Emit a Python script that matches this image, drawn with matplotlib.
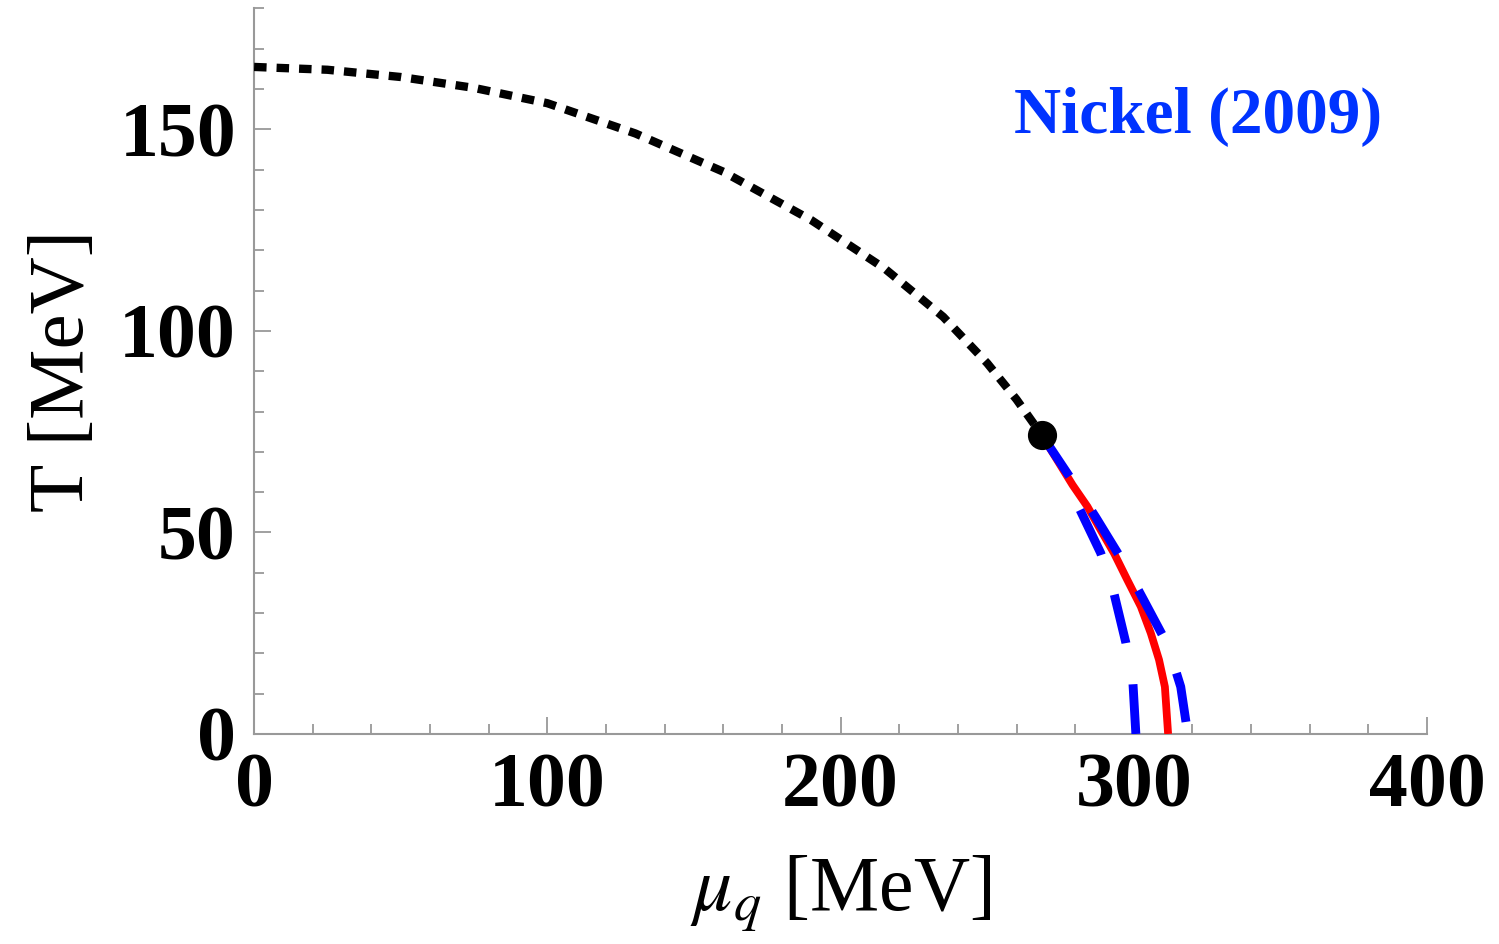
import matplotlib
matplotlib.use("Agg")
import matplotlib.pyplot as plt
from matplotlib.ticker import MultipleLocator

plt.rcParams['font.family'] = ['Liberation Serif', 'DejaVu Serif']
plt.rcParams['mathtext.fontset'] = 'stix'

# crossover line (dotted), mu_q vs T in MeV
cross_mu = [0, 25, 50, 75, 100, 130, 160, 190, 215, 235, 250, 260, 268.6]
cross_T = [165.5, 164.8, 163.0, 160.3, 156.5, 149.0, 139.5, 127.5, 115.5, 103.5, 92.0, 83.0, 74.2]

# critical point
cp_mu, cp_T = 268.6, 74.2

# first-order line (red)
red_mu = [268.6, 279.1, 284.2, 288.7, 293.3, 297.8, 302.4, 305.8, 308.6, 310.6, 311.7]
red_T = [74.2, 61.8, 56.4, 50.6, 44.8, 38.2, 31.6, 25.0, 18.4, 11.7, 0.0]

# inhomogeneous phase boundaries (blue dashed)
outer_mu = [268.6, 279.5, 287.0, 296.6, 303.4, 311.6, 316.0, 318.4]
outer_T = [74.2, 62.3, 53.8, 42.4, 33.2, 22.0, 11.7, 0.0]
inner_mu = [300.7, 299.7, 297.3, 293.2, 288.7, 281.2, 279.5]
inner_T = [0.0, 12.7, 22.6, 35.0, 44.9, 56.3, 62.3]

fig = plt.figure(figsize=(14.99, 9.44), dpi=100)
ax = fig.add_axes([0.1695, 0.2225, 0.7825, 0.7685])

ax.plot(cross_mu, cross_T, color='black', lw=6.0, dashes=(1.5, 1.2),
        dash_capstyle='butt', zorder=3)
ax.plot(red_mu, red_T, color='#ff0000', lw=5.6, solid_capstyle='butt',
        solid_joinstyle='round', zorder=3)
ax.plot(outer_mu, outer_T, color='#0000ff', lw=6.4, dashes=(5.6, 4.7),
        dash_capstyle='butt', zorder=4)
ax.plot(inner_mu, inner_T, color='#0000ff', lw=6.4, dashes=(5.6, 4.7),
        dash_capstyle='butt', zorder=4)
ax.plot([cp_mu], [cp_T], 'o', color='black', ms=20, zorder=5)

ax.text(259, 149, 'Nickel (2009)', color='#0033ff', fontsize=47,
        fontweight='bold', ha='left', va='baseline')

ax.set_xlim(0, 400)
ax.set_ylim(0, 180)
ax.xaxis.set_major_locator(MultipleLocator(100))
ax.xaxis.set_minor_locator(MultipleLocator(20))
ax.yaxis.set_major_locator(MultipleLocator(50))
ax.yaxis.set_minor_locator(MultipleLocator(10))

for side in ['top', 'right']:
    ax.spines[side].set_visible(False)
for side in ['left', 'bottom']:
    ax.spines[side].set_color('#999999')
    ax.spines[side].set_linewidth(1.5)

ax.tick_params(which='both', direction='in', color='#999999', width=1.3)
ax.tick_params(which='major', length=12, pad=13, labelsize=56)
ax.tick_params(which='minor', length=7)
for lab in ax.get_xticklabels() + ax.get_yticklabels():
    lab.set_fontweight('bold')

ax.set_xlabel(r'$\mu_q$ [MeV]', fontsize=56, labelpad=22)
ax.set_ylabel('T [MeV]', fontsize=57, labelpad=14)

fig.savefig('out.png', dpi=100)
